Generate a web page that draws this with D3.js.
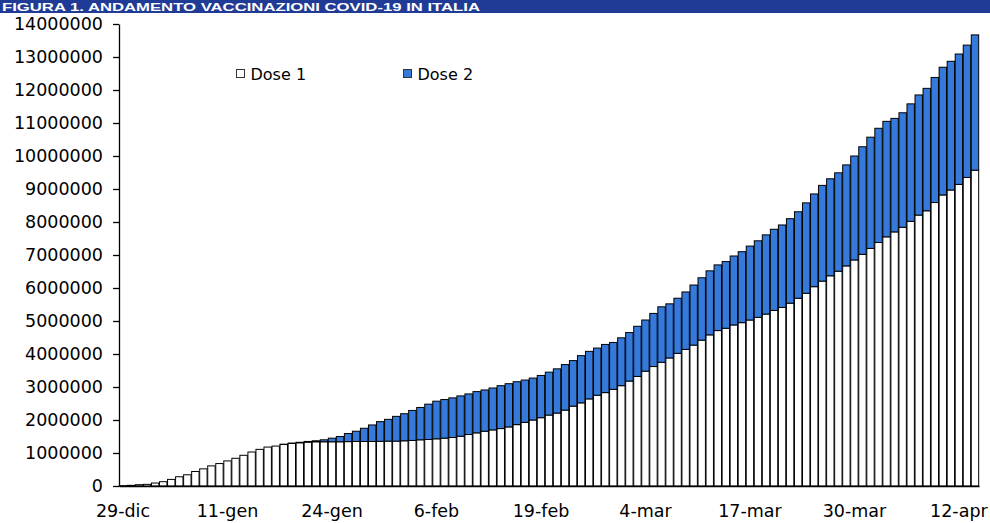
<!DOCTYPE html>
<html>
<head>
<meta charset="utf-8">
<script src="https://cdn.jsdelivr.net/npm/d3@7"></script>
<style>
  html, body { margin: 0; padding: 0; background: #fff; }
  svg { display: block; }
</style>
</head>
<body>
<svg id="chart" width="990" height="523"></svg>
<script>
// ---- DATA ----
const title = "FIGURA 1. ANDAMENTO VACCINAZIONI COVID-19 IN ITALIA";
const seriesNames = ["Dose 1", "Dose 2"];
const categories = [
  "29-dic","30-dic","31-dic",
  "1-gen","2-gen","3-gen","4-gen","5-gen","6-gen","7-gen","8-gen","9-gen","10-gen",
  "11-gen","12-gen","13-gen","14-gen","15-gen","16-gen","17-gen","18-gen","19-gen","20-gen",
  "21-gen","22-gen","23-gen","24-gen","25-gen","26-gen","27-gen","28-gen","29-gen","30-gen","31-gen",
  "1-feb","2-feb","3-feb","4-feb","5-feb","6-feb","7-feb","8-feb","9-feb","10-feb",
  "11-feb","12-feb","13-feb","14-feb","15-feb","16-feb","17-feb","18-feb","19-feb","20-feb",
  "21-feb","22-feb","23-feb","24-feb","25-feb","26-feb","27-feb","28-feb",
  "1-mar","2-mar","3-mar","4-mar","5-mar","6-mar","7-mar","8-mar","9-mar","10-mar",
  "11-mar","12-mar","13-mar","14-mar","15-mar","16-mar","17-mar","18-mar","19-mar","20-mar",
  "21-mar","22-mar","23-mar","24-mar","25-mar","26-mar","27-mar","28-mar","29-mar","30-mar","31-mar",
  "1-apr","2-apr","3-apr","4-apr","5-apr","6-apr","7-apr","8-apr","9-apr","10-apr",
  "11-apr","12-apr","13-apr","14-apr"
];
// Dose 1 (cumulative, first doses)
const dose1 = [
  10000, 20000, 40000, 50000, 90000, 130000, 200000, 280000, 340000, 440000,
  520000, 610000, 680000, 760000, 840000, 930000, 1030000, 1110000, 1180000, 1210000,
  1260000, 1290000, 1310000, 1330000, 1340000, 1340000, 1340000, 1340000, 1345000, 1350000,
  1350000, 1350000, 1355000, 1360000, 1360000, 1370000, 1380000, 1400000, 1410000, 1430000,
  1450000, 1470000, 1510000, 1560000, 1610000, 1660000, 1700000, 1740000, 1790000, 1860000,
  1930000, 2000000, 2070000, 2150000, 2210000, 2300000, 2420000, 2520000, 2640000, 2750000,
  2830000, 2930000, 3040000, 3180000, 3320000, 3480000, 3620000, 3750000, 3880000, 4020000,
  4140000, 4270000, 4420000, 4580000, 4710000, 4780000, 4880000, 4950000, 5030000, 5110000,
  5210000, 5320000, 5410000, 5540000, 5690000, 5840000, 6040000, 6210000, 6370000, 6510000,
  6670000, 6850000, 7020000, 7200000, 7380000, 7550000, 7700000, 7840000, 8020000, 8210000,
  8340000, 8590000, 8820000, 8970000, 9140000, 9350000, 9570000
];
// Dose 2 (cumulative, second doses)
const dose2 = [
  0, 0, 0, 0, 0, 0, 0, 0, 0, 0,
  0, 0, 0, 0, 0, 0, 0, 0, 0, 0,
  5000, 10000, 15000, 20000, 30000, 60000, 110000, 160000, 245000, 310000,
  400000, 500000, 595000, 660000, 750000, 820000, 910000, 980000, 1070000, 1140000,
  1170000, 1200000, 1220000, 1230000, 1250000, 1250000, 1270000, 1300000, 1310000, 1300000,
  1280000, 1270000, 1280000, 1300000, 1340000, 1380000, 1380000, 1430000, 1440000, 1430000,
  1460000, 1420000, 1450000, 1470000, 1520000, 1550000, 1610000, 1680000, 1640000, 1670000,
  1740000, 1820000, 1890000, 1940000, 1990000, 2020000, 2090000, 2150000, 2240000, 2320000,
  2400000, 2460000, 2500000, 2560000, 2620000, 2740000, 2810000, 2900000, 2940000, 2980000,
  3060000, 3150000, 3260000, 3370000, 3460000, 3500000, 3440000, 3470000, 3560000, 3640000,
  3710000, 3790000, 3870000, 3900000, 3950000, 4010000, 4100000
];
const yTicks = [0,1000000,2000000,3000000,4000000,5000000,6000000,7000000,8000000,9000000,10000000,11000000,12000000,13000000,14000000];
const xTickLabels = ["29-dic","11-gen","24-gen","6-feb","19-feb","4-mar","17-mar","30-mar","12-apr"];
const colors = { "Dose 1": "#ffffff", "Dose 2": "#3579DB" };

// ---- CHART ----
const svg = d3.select("#chart");
const W = 990, H = 523;
const plot = { left: 119, right: 979, top: 24, bottom: 486 };
const FONT = "'DejaVu Sans', sans-serif";

svg.append("rect").attr("width", W).attr("height", H).attr("fill", "#fff");

// title band
svg.append("rect").attr("x", 0).attr("y", 0).attr("width", W).attr("height", 13).attr("fill", "#1F3B95");
svg.append("text")
  .attr("x", 2).attr("y", 11)
  .attr("fill", "#fff")
  .attr("font-family", "'Liberation Sans', Arial, sans-serif")
  .attr("font-weight", "bold")
  .attr("font-size", 11.5)
  .attr("textLength", 478)
  .attr("lengthAdjust", "spacingAndGlyphs")
  .text(title);

const x = d3.scaleBand().domain(categories).range([plot.left, plot.right]).paddingInner(0.08).paddingOuter(0.04);
const y = d3.scaleLinear().domain([0, 14000000]).range([plot.bottom, plot.top]);

const rows = categories.map((c, i) => ({ cat: c, "Dose 1": dose1[i], "Dose 2": dose2[i] }));
const stack = d3.stack().keys(seriesNames)(rows);

svg.append("g").selectAll("g").data(stack).join("g")
  .attr("fill", d => colors[d.key])
  .attr("stroke", "#000")
  .attr("stroke-width", 1)
  .selectAll("rect").data(d => d).join("rect")
  .attr("x", d => x(d.data.cat))
  .attr("width", x.bandwidth())
  .attr("y", d => y(d[1]))
  .attr("height", d => Math.max(0, y(d[0]) - y(d[1])))
  .attr("display", d => (d[1] - d[0]) > 0 ? null : "none");

// y axis
const yAxis = svg.append("g").attr("transform", `translate(${plot.left},0)`)
  .call(d3.axisLeft(y).tickValues(yTicks).tickFormat(d3.format("d")).tickSizeInner(6).tickSizeOuter(0).tickPadding(10));
yAxis.selectAll("path, line").attr("stroke", "#000").attr("stroke-width", 1.3);
yAxis.selectAll("text").attr("font-family", FONT).attr("font-size", 17.5).attr("fill", "#000");

// x axis
const xAxis = svg.append("g").attr("transform", `translate(0,${plot.bottom})`)
  .call(d3.axisBottom(x).tickValues(xTickLabels).tickSizeInner(0).tickSizeOuter(0).tickPadding(19));
xAxis.select("path").attr("stroke", "#000").attr("stroke-width", 1.3);
xAxis.selectAll("text").attr("font-family", FONT).attr("font-size", 17.5).attr("fill", "#000");

// legend
const legend = svg.append("g");
const legendPos = [{ x: 236.5, name: "Dose 1" }, { x: 403.5, name: "Dose 2" }];
legendPos.forEach(p => {
  legend.append("rect").attr("x", p.x).attr("y", 69.5).attr("width", 8).attr("height", 8)
    .attr("fill", colors[p.name]).attr("stroke", "#333").attr("stroke-width", 1);
  legend.append("text").attr("x", p.x + 14).attr("y", 80)
    .attr("font-family", FONT).attr("font-size", 16).attr("fill", "#000").text(p.name);
});
</script>
</body>
</html>
